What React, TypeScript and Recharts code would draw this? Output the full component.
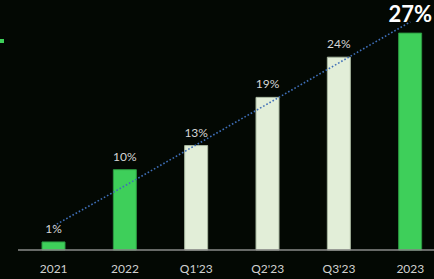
import { ComposedChart, Bar, Line, XAxis, YAxis, Cell, LabelList } from "recharts";

const periods = ["2021", "2022", "Q1'23", "Q2'23", "Q3'23", "2023"];
const shares = [1, 10, 13, 19, 24, 27];
const trend = [3.0, 8.0, 13.1, 18.2, 23.3, 28.4];
const isYear = [true, true, false, false, false, true];

const data = periods.map((p, i) => ({ name: p, share: shares[i], trend: trend[i] }));

const GREEN = "#3ecf5a";
const PALE = "#e2eed8";

const renderLabel = (props: any) => {
  const { x, y, width, value, index } = props;
  const cx = x + width / 2;
  if (index === periods.length - 1) {
    return (
      <text x={cx} y={y - 11} textAnchor="middle" fill="#ffffff" fontSize={22} fontWeight="bold">
        {value}%
      </text>
    );
  }
  return (
    <text x={cx} y={y - 9} textAnchor="middle" fill="#d6d6d6" fontSize={12}>
      {value}%
    </text>
  );
};

export default function App() {
  return (
    <div
      style={{
        position: "absolute",
        left: 0,
        top: 0,
        width: 434,
        height: 279,
        overflow: "hidden",
        background: "#030803",
        fontFamily: "Lato, 'Open Sans', sans-serif",
      }}
    >
      <div style={{ position: "absolute", left: 0, top: 39, width: 4, height: 4, background: GREEN }} />
      <ComposedChart width={446} height={279} data={data} margin={{ top: 9, right: 0, bottom: 0, left: 18 }}>
        <XAxis
          dataKey="name"
          height={29}
          tickLine={false}
          tickSize={0}
          tickMargin={14}
          axisLine={{ stroke: "#8a8a8a", strokeWidth: 1.5 }}
          tick={{ fill: "#d0d0d0", fontSize: 12 }}
          interval={0}
        />
        <YAxis hide domain={[0, 30]} />
        <Bar dataKey="share" barSize={23} isAnimationActive={false}>
          {data.map((d, i) => (
            <Cell
              key={d.name}
              fill={isYear[i] ? GREEN : PALE}
              stroke={isYear[i] ? "#2c9a42" : "#a9b8a0"}
              strokeWidth={1}
            />
          ))}
          <LabelList dataKey="share" content={renderLabel} />
        </Bar>
        <Line
          dataKey="trend"
          stroke="#3f6fb8"
          strokeWidth={1.6}
          strokeDasharray="1.6 2"
          dot={false}
          isAnimationActive={false}
        />
      </ComposedChart>
    </div>
  );
}
